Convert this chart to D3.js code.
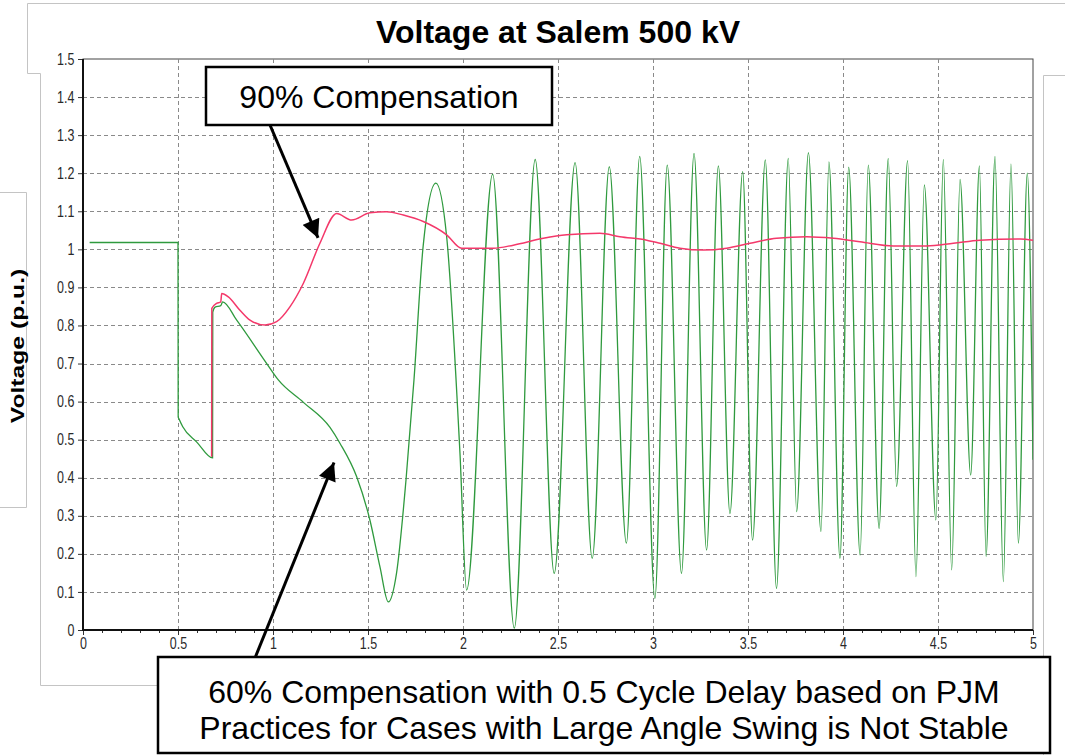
<!DOCTYPE html>
<html>
<head>
<meta charset="utf-8">
<script src="https://cdn.jsdelivr.net/npm/d3@7"></script>
<style>
  body { margin: 0; background: #fff; }
  svg { display: block; font-family: "Liberation Sans", Arial, sans-serif; }
</style>
</head>
<body>
<div id="container"></div>
<script>
// time (s) / voltage (p.u.)
const greenTime = [0.035, 0.5, 0.501, 0.505, 0.525, 0.6, 0.682, 0.683, 0.695, 0.725, 0.735, 0.809, 0.967, 1.028, 1.16, 1.3, 1.353, 1.44, 1.51, 1.563, 1.607, 1.65, 1.70, 1.742, 1.79, 1.857, 1.914, 1.984, 2.019,
  2.156, 2.27, 2.38, 2.48, 2.59, 2.68, 2.77, 2.86, 2.93, 3.01, 3.075, 3.15, 3.216, 3.282, 3.344, 3.405, 3.472, 3.524, 3.591, 3.65, 3.712, 3.756, 3.818, 3.884, 3.926, 3.984,
  4.03, 4.09, 4.133, 4.19, 4.238, 4.282, 4.34, 4.384, 4.428, 4.489, 4.528, 4.572, 4.616, 4.672, 4.718, 4.753, 4.8, 4.844, 4.884, 4.923, 4.97, 5.0];
const greenVolt = [1.018, 1.018, 0.56, 0.555, 0.534, 0.493, 0.452, 0.835, 0.848, 0.852, 0.862, 0.814, 0.70, 0.657, 0.598, 0.532, 0.49, 0.403, 0.289, 0.166, 0.074, 0.149, 0.394, 0.657, 1.007, 1.174, 1.033, 0.465, 0.105,
  1.197, 0.005, 1.236, 0.149, 1.228, 0.188, 1.217, 0.228, 1.244, 0.083, 1.221, 0.149, 1.252, 0.21, 1.219, 0.306, 1.204, 0.236, 1.235, 0.109, 1.239, 0.311, 1.254, 0.259, 1.23, 0.188,
  1.216, 0.197, 1.221, 0.267, 1.239, 0.377, 1.233, 0.14, 1.169, 0.289, 1.236, 0.158, 1.184, 0.407, 1.219, 0.193, 1.244, 0.127, 1.224, 0.228, 1.2, 0.447];

const redTime = [0.677, 0.678, 0.703, 0.725, 0.73, 0.765, 0.826, 0.879, 0.958, 1.019, 1.089, 1.16, 1.247, 1.335, 1.414, 1.51, 1.598, 1.686, 1.791, 1.914, 1.993, 2.16, 2.265, 2.423, 2.546, 2.72, 2.826, 2.967,
  3.037, 3.142, 3.265, 3.388, 3.511, 3.651, 3.809, 3.949, 4.089, 4.265, 4.44, 4.581, 4.721, 4.932, 5.0];
const redVolt = [0.455, 0.845, 0.858, 0.862, 0.884, 0.875, 0.84, 0.814, 0.801, 0.81, 0.849, 0.911, 1.016, 1.094, 1.077, 1.096, 1.099, 1.09, 1.073, 1.038, 1.003, 1.003, 1.011, 1.029, 1.038, 1.042, 1.033, 1.024,
  1.016, 1.003, 0.998, 1.003, 1.016, 1.029, 1.033, 1.029, 1.02, 1.009, 1.009, 1.016, 1.024, 1.027, 1.024];

const xTicks = [0, 0.5, 1, 1.5, 2, 2.5, 3, 3.5, 4, 4.5, 5];
const xMinor = d3.range(0, 51).map(i => i / 10);
const yTicks = [0, 0.1, 0.2, 0.3, 0.4, 0.5, 0.6, 0.7, 0.8, 0.9, 1, 1.1, 1.2, 1.3, 1.4, 1.5];

const chartTitle = "Voltage at Salem 500 kV";
const yLabel = "Voltage (p.u.)";
const note90 = "90% Compensation";
const note60 = ["60% Compensation with 0.5 Cycle Delay based on PJM", "Practices for Cases with Large Angle Swing is Not Stable"];

const W = 1065, H = 755;
const plot = {left: 83, right: 1033, top: 59, bottom: 630};

const svg = d3.select("#container")
  .append("svg")
  .attr("width", W)
  .attr("height", H);

const x = d3.scaleLinear().domain([0, 5]).range([plot.left, plot.right]);
const y = d3.scaleLinear().domain([0, 1.5]).range([plot.bottom, plot.top]);

// light gray panel outlines behind the chart
const frame = svg.append("g").attr("fill", "none").attr("stroke", "#c4c4c4").attr("stroke-width", 1);
frame.append("path").attr("d", "M27.5,73.5 V3.5 H1065 M27.5,73.5 H40.5 V685.5 H160");
frame.append("path").attr("d", "M1065,75.5 H1043.5 V755");
frame.append("path").attr("d", "M0,192.5 H26.5 V507.5 H0");

svg.append("text")
  .attr("x", 558)
  .attr("y", 43)
  .attr("text-anchor", "middle")
  .style("font-size", "32px")
  .style("font-weight", "bold")
  .text(chartTitle);

svg.append("rect")
  .attr("x", plot.left).attr("y", plot.top)
  .attr("width", plot.right - plot.left).attr("height", plot.bottom - plot.top)
  .attr("fill", "#fff")
  .attr("stroke", "#444").attr("stroke-width", 1);

// grid
const grid = svg.append("g").attr("stroke", "#8a8a8a").attr("stroke-width", 1).attr("stroke-dasharray", "4,3");
grid.selectAll("line.h")
  .data(yTicks.filter(d => d > 0 && d < 1.5))
  .join("line")
  .attr("class", "h")
  .attr("x1", plot.left).attr("x2", plot.right)
  .attr("y1", d => Math.round(y(d)) + 0.5).attr("y2", d => Math.round(y(d)) + 0.5);
grid.selectAll("line.v")
  .data(xTicks.filter(d => d > 0 && d < 5))
  .join("line")
  .attr("class", "v")
  .attr("y1", plot.top).attr("y2", plot.bottom)
  .attr("x1", d => Math.round(x(d)) + 0.5).attr("x2", d => Math.round(x(d)) + 0.5);

// axes
const yAxis = svg.append("g")
  .attr("transform", `translate(${plot.left},0)`)
  .call(d3.axisLeft(y).tickValues(yTicks).tickSize(5).tickPadding(4).tickFormat(d => String(d)));
const xMinorAxis = svg.append("g")
  .attr("transform", `translate(0,${plot.bottom})`)
  .call(d3.axisBottom(x).tickValues(xMinor).tickSize(3).tickFormat(""));
const xAxis = svg.append("g")
  .attr("transform", `translate(0,${plot.bottom})`)
  .call(d3.axisBottom(x).tickValues(xTicks).tickSize(5).tickPadding(3).tickFormat(d => String(d)));

[yAxis, xAxis, xMinorAxis].forEach(a => {
  a.select(".domain").remove();
  a.selectAll(".tick line").attr("stroke", "#333");
  a.selectAll("text")
    .attr("fill", "#2a2a2a")
    .attr("font-size", 16);
});
yAxis.selectAll("text").attr("transform", "scale(0.78,1)").attr("x", -11);
xAxis.selectAll("text").attr("transform", "scale(0.78,1)").attr("x", 0);

svg.append("line")
  .attr("x1", plot.left).attr("x2", plot.left)
  .attr("y1", plot.top).attr("y2", plot.bottom + 1)
  .attr("stroke", "#111").attr("stroke-width", 2);
svg.append("line")
  .attr("x1", plot.left - 1).attr("x2", plot.right)
  .attr("y1", plot.bottom).attr("y2", plot.bottom)
  .attr("stroke", "#111").attr("stroke-width", 2);

svg.append("text")
  .attr("transform", "translate(24,346) rotate(-90) scale(1.3,1)")
  .attr("text-anchor", "middle")
  .style("font-size", "19px")
  .style("font-weight", "bold")
  .text(yLabel);

// traces
svg.append("clipPath").attr("id", "clip")
  .append("rect")
  .attr("x", plot.left).attr("y", plot.top)
  .attr("width", plot.right - plot.left).attr("height", plot.bottom - plot.top);

const line = d3.line()
  .x(d => x(d[0]))
  .y(d => y(d[1]))
  .curve(d3.curveMonotoneX);

const green = greenTime.map((t, i) => [t, greenVolt[i]]);
const red = redTime.map((t, i) => [t, redVolt[i]]);

const traces = svg.append("g").attr("clip-path", "url(#clip)");
traces.append("path")
  .datum(green)
  .attr("fill", "none")
  .attr("stroke", "#2f9a3e")
  .attr("stroke-width", 1.3)
  .attr("d", line);
traces.append("path")
  .datum(red)
  .attr("fill", "none")
  .attr("stroke", "#f4386a")
  .attr("stroke-width", 1.5)
  .attr("d", line);

// callouts
svg.append("defs").append("marker")
  .attr("id", "head")
  .attr("viewBox", "0 0 10 10")
  .attr("refX", 10).attr("refY", 5)
  .attr("markerWidth", 6.5).attr("markerHeight", 6)
  .attr("markerUnits", "strokeWidth")
  .attr("orient", "auto")
  .append("path")
  .attr("d", "M0,0 L10,5 L0,10 Z")
  .attr("fill", "#000");

function arrow(x1, y1, t, v) {
  svg.append("line")
    .attr("x1", x1).attr("y1", y1)
    .attr("x2", x(t)).attr("y2", y(v))
    .attr("stroke", "#000")
    .attr("stroke-width", 3)
    .attr("marker-end", "url(#head)");
}

function callout(bx, by, bw, bh, lines, lineY) {
  svg.append("rect")
    .attr("x", bx).attr("y", by)
    .attr("width", bw).attr("height", bh)
    .attr("fill", "#fff")
    .attr("stroke", "#000")
    .attr("stroke-width", 2.5);
  svg.append("text")
    .attr("text-anchor", "middle")
    .style("font-size", "32px")
    .selectAll("tspan")
    .data(lines)
    .join("tspan")
    .attr("x", bx + bw / 2)
    .attr("y", (d, i) => lineY[i])
    .text(d => d);
}

arrow(270, 125, 1.237, 1.03);
callout(206, 67, 346, 58, [note90], [108]);

arrow(255, 658, 1.321, 0.44);
callout(158, 657, 892, 96, note60, [703, 739]);
</script>
</body>
</html>
